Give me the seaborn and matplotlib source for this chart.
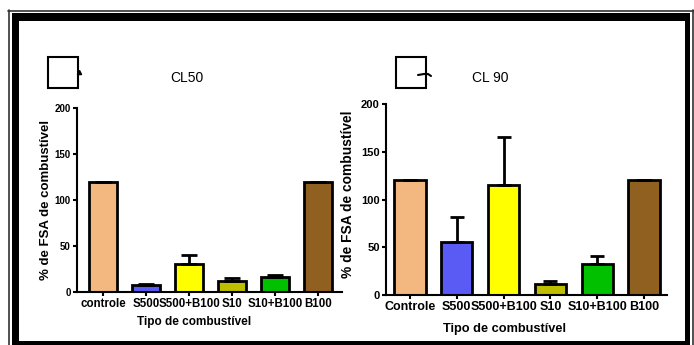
import seaborn as sns
import matplotlib.pyplot as plt
import pandas as pd
from matplotlib.patches import Rectangle
from matplotlib.lines import Line2D

# Dados
tipos_cl50 = ["controle", "S500", "S500+B100", "S10", "S10+B100", "B100"]
tipos_cl90 = ["Controle", "S500", "S500+B100", "S10", "S10+B100", "B100"]
media_cl50 = [120, 8, 30, 12, 16, 120]
erro_cl50 = [0, 1, 10, 3, 3, 0]
media_cl90 = [120, 55, 115, 12, 32, 120]
erro_cl90 = [0, 27, 50, 3, 9, 0]
cores = ["#F2B880", "#5A5AF5", "#FFFF00", "#BEBE00", "#00C000", "#906020"]
yticks = [0, 50, 100, 150, 200]

sns.set_style("ticks")
plt.rcParams["font.family"] = ["Liberation Sans", "DejaVu Sans"]
for k in ["text.color", "axes.labelcolor", "xtick.color", "ytick.color"]:
    plt.rcParams[k] = "black"

W, H = 694, 345
fig = plt.figure(figsize=(W / 100, H / 100), dpi=100)


def px(x0, y0, x1, y1):
    # retangulo em pixels -> fracao da figura
    return (x0 / W, 1 - y1 / H, (x1 - x0) / W, (y1 - y0) / H)


def painel(rect, tipos, media, erro, xlim, largura, fs_tick, fs_x, fs_lab, fs_ylab, ylab_pos, xlab_pos, cap):
    ax = fig.add_axes(px(*rect))
    df = pd.DataFrame({"tipo": tipos, "valor": media})
    sns.barplot(data=df, x="tipo", y="valor", hue="tipo", palette=cores, legend=False,
                width=largura, edgecolor="black", linewidth=2, saturation=1, ax=ax)
    ax.errorbar(x=list(range(len(tipos))), y=media, yerr=[[0] * len(erro), erro],
                fmt="none", ecolor="black", elinewidth=2, capsize=cap, capthick=2, zorder=1)
    ax.set_xlim(*xlim)
    ax.set_ylim(0, 200)
    ax.set_yticks(yticks)
    sns.despine(ax=ax)
    for s in ["left", "bottom"]:
        ax.spines[s].set_linewidth(1.5)
        ax.spines[s].set_color("black")
    ax.tick_params(axis="both", width=1.5, length=3, pad=1.5, colors="black")
    for lab in ax.get_yticklabels():
        lab.set_fontsize(fs_tick)
        lab.set_fontweight("bold")
    for lab in ax.get_xticklabels():
        lab.set_fontsize(fs_x)
        lab.set_fontweight("bold")
    ax.set_xlabel("Tipo de combustível", fontsize=fs_lab, fontweight="bold")
    ax.set_ylabel("% de FSA de combustível", fontsize=fs_ylab, fontweight="bold")
    ax.yaxis.set_label_coords(*ylab_pos)
    ax.xaxis.set_label_coords(*xlab_pos)
    return ax


painel((77, 108, 342, 292), tipos_cl50, media_cl50, erro_cl50, (-0.6, 5.55), 0.65,
       7, 8.3, 8.5, 9.5, (-0.095, 0.5), (0.44, -0.13), 6)
painel((386, 104, 667, 295), tipos_cl90, media_cl90, erro_cl90, (-0.51, 5.49), 0.67,
       8, 9, 9.2, 9.9, (-0.11, 0.53), (0.42, -0.147), 5)

fig.text(187 / W, 1 - 78 / H, "CL50", fontsize=10, ha="center", va="center")
fig.text(490 / W, 1 - 78 / H, "CL 90", fontsize=10, ha="center", va="center")

# quadrados (restos de legenda)
for x0 in (48, 396):
    fig.patches.append(Rectangle(px(x0, 57, x0 + 30, 88)[:2], 30 / W, 31 / H,
                                 transform=fig.transFigure, fill=False,
                                 edgecolor="black", linewidth=1.5))
fig.lines.append(Line2D([79 / W], [1 - 72 / H], marker="^", markersize=3, color="black",
                        transform=fig.transFigure))
fig.lines.append(Line2D([418 / W, 424 / W, 428 / W, 431 / W],
                        [1 - 75 / H, 1 - 74 / H, 1 - 74 / H, 1 - 76 / H],
                        color="black", linewidth=1.5, transform=fig.transFigure))

# moldura
for r in [(12, 13, 19, 345), (12, 13, 690, 21), (685, 13, 690, 345), (12, 341, 690, 345)]:
    b = px(*r)
    fig.patches.append(Rectangle(b[:2], b[2], b[3], transform=fig.transFigure,
                                 facecolor="black", edgecolor="none"))
fig.lines.append(Line2D([8 / W, 1], [1 - 10.5 / H, 1 - 10.5 / H], color="#333333",
                        linewidth=1.2, transform=fig.transFigure))
fig.lines.append(Line2D([8.5 / W, 8.5 / W], [0, 1 - 10 / H], color="#333333",
                        linewidth=1.2, transform=fig.transFigure))
fig.lines.append(Line2D([692.5 / W, 692.5 / W], [0, 1 - 10 / H], color="#333333",
                        linewidth=1.2, transform=fig.transFigure))

fig.savefig("out.png", dpi=100)
